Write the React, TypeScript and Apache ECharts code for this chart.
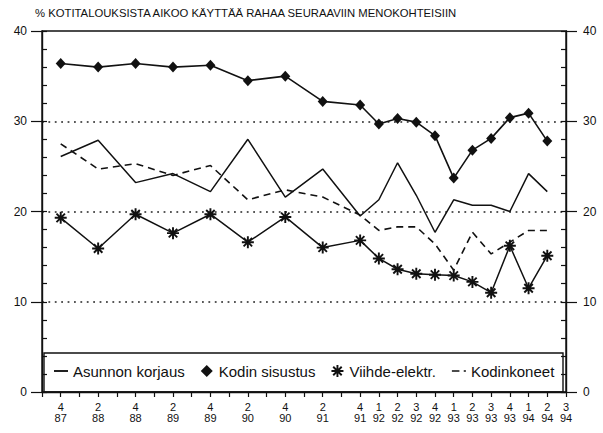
import React, { useEffect, useRef } from "react";
import * as echarts from "echarts";

const TITLE = "% KOTITALOUKSISTA AIKOO KÄYTTÄÄ RAHAA SEURAAVIIN MENOKOHTEISIIN";

const quarters = [
  "3\n87", "4\n87",
  "1\n88", "2\n88", "3\n88", "4\n88",
  "1\n89", "2\n89", "3\n89", "4\n89",
  "1\n90", "2\n90", "3\n90", "4\n90",
  "1\n91", "2\n91", "3\n91", "4\n91",
  "1\n92", "2\n92", "3\n92", "4\n92",
  "1\n93", "2\n93", "3\n93", "4\n93",
  "1\n94", "2\n94", "3\n94",
];

const tickLabels = [
  "4\n87", "2\n88", "4\n88", "2\n89", "4\n89", "2\n90", "4\n90", "2\n91",
  "4\n91", "1\n92", "2\n92", "3\n92", "4\n92", "1\n93", "2\n93", "3\n93",
  "4\n93", "1\n94", "2\n94", "3\n94",
];

const yTicks = [0, 10, 20, 30, 40];

const seriesNames = ["Asunnon korjaus", "Kodin sisustus", "Viihde-elektr.", "Kodinkoneet"];

const asunnonKorjaus = [
  null, 26.1, null, 27.9, null, 23.2, null, 24.2, null, 22.2, null, 28.0, null, 21.6,
  null, 24.7, null, 19.5, 21.3, 25.4, 21.8, 17.7, 21.3, 20.7, 20.7, 20.0, 24.2, 22.2, null,
];
const kodinSisustus = [
  null, 36.4, null, 36.0, null, 36.4, null, 36.0, null, 36.2, null, 34.5, null, 35.0,
  null, 32.2, null, 31.8, 29.7, 30.3, 29.9, 28.4, 23.7, 26.8, 28.1, 30.4, 30.9, 27.8, null,
];
const viihdeElektr = [
  null, 19.3, null, 15.9, null, 19.7, null, 17.6, null, 19.7, null, 16.6, null, 19.4,
  null, 16.0, null, 16.8, 14.8, 13.6, 13.1, 13.0, 12.9, 12.2, 11.0, 16.2, 11.5, 15.1, null,
];
const kodinkoneet = [
  null, 27.5, null, 24.7, null, 25.3, null, 24.0, null, 25.1, null, 21.3, null, 22.4,
  null, 21.6, null, 19.6, 17.9, 18.3, 18.3, 16.4, 13.5, 17.7, 15.3, 16.6, 17.9, 17.9, null,
];

const INK = "#111";
const FONT = "'Liberation Sans', Arial, Helvetica, sans-serif";

const asteriskPath =
  "path://M-5,-0.8L5,-0.8L5,0.8L-5,0.8Z M-0.8,-5L0.8,-5L0.8,5L-0.8,5Z " +
  "M-2.97,-4.1L4.1,2.97L2.97,4.1L-4.1,-2.97Z " +
  "M-4.1,2.97L2.97,-4.1L4.1,-2.97L-2.97,4.1Z";
const diamondPath = "path://M0,-5L5,0L0,5L-5,0Z";
const lineIcon = "path://M0,0L12,0L12,1.6L0,1.6Z";
const dashDotIcon = "path://M0,0L7,0L7,1.6L0,1.6Z M11,0L13,0L13,1.6L11,1.6Z";

export default function App() {
  const ref = useRef<HTMLDivElement>(null);

  useEffect(() => {
    document.body.style.margin = "0";
    if (!ref.current) return;
    const chart = echarts.init(ref.current, undefined, { renderer: "svg" });

    const majorAxis = (position: "left" | "right", margin: number, split: boolean) => ({
      type: "value",
      position,
      min: yTicks[0],
      max: yTicks[yTicks.length - 1],
      interval: 10,
      axisLine: { show: true, lineStyle: { color: INK, width: 1.4 } },
      axisTick: { show: true, length: 11, lineStyle: { color: INK, width: 1.2 } },
      axisLabel: { margin, fontSize: 12, color: INK, fontFamily: FONT },
      splitLine: {
        show: split,
        showMinLine: false,
        showMaxLine: false,
        lineStyle: { type: [1.8, 4.6], color: "#222", width: 1.6 },
      },
    });
    const minorAxis = (position: "left" | "right") => ({
      type: "value",
      position,
      min: 0,
      max: 40,
      interval: 2,
      axisLine: { show: false },
      axisTick: { show: true, inside: true, length: 5, lineStyle: { color: INK, width: 1.2 } },
      axisLabel: { show: false },
      splitLine: { show: false },
    });

    chart.setOption({
      animation: false,
      backgroundColor: "#fff",
      title: {
        text: TITLE,
        left: 35,
        top: 7,
        padding: 0,
        textStyle: { fontSize: 11.3, fontWeight: "normal", color: INK, fontFamily: FONT },
      },
      grid: {
        left: 42,
        right: 37,
        top: 31,
        bottom: 41,
        show: true,
        borderColor: INK,
        borderWidth: 1.4,
        backgroundColor: "transparent",
      },
      legend: {
        left: 54,
        top: 363,
        padding: 0,
        itemGap: 16,
        itemWidth: 14,
        itemHeight: 12,
        textStyle: { fontSize: 15, color: INK, fontFamily: FONT, lineHeight: 16 },
        data: [
          { name: seriesNames[0], icon: lineIcon },
          { name: seriesNames[1], icon: diamondPath },
          { name: seriesNames[2], icon: asteriskPath },
          { name: seriesNames[3], icon: dashDotIcon },
        ],
      },
      graphic: [
        {
          type: "rect",
          shape: { x: 44, y: 353, width: 519, height: 39 },
          style: { fill: "none", stroke: INK, lineWidth: 1.4 },
          silent: true,
        },
      ],
      xAxis: {
        type: "category",
        data: quarters,
        boundaryGap: false,
        axisLine: { show: true, lineStyle: { color: INK, width: 1.4 } },
        axisTick: { show: true, interval: 0, length: 5, lineStyle: { color: INK, width: 1.2 } },
        axisLabel: {
          interval: (_i: number, v: string) => tickLabels.includes(v),
          fontSize: 11,
          lineHeight: 11,
          margin: 9,
          color: INK,
          fontFamily: FONT,
        },
        splitLine: { show: false },
      },
      yAxis: [majorAxis("left", 15, true), majorAxis("right", 17, false), minorAxis("left"), minorAxis("right")],
      series: [
        {
          name: seriesNames[0],
          type: "line",
          data: asunnonKorjaus,
          connectNulls: true,
          symbol: "none",
          color: INK,
          lineStyle: { color: INK, width: 1.5 },
        },
        {
          name: seriesNames[1],
          type: "line",
          data: kodinSisustus,
          connectNulls: true,
          symbol: diamondPath,
          symbolSize: [10, 11],
          showAllSymbol: true,
          color: INK,
          itemStyle: { color: INK, borderWidth: 0 },
          lineStyle: { color: INK, width: 1.6 },
        },
        {
          name: seriesNames[2],
          type: "line",
          data: viihdeElektr,
          connectNulls: true,
          symbol: asteriskPath,
          symbolSize: 12,
          showAllSymbol: true,
          color: INK,
          itemStyle: { color: INK, borderWidth: 0 },
          lineStyle: { color: INK, width: 1.5 },
        },
        {
          name: seriesNames[3],
          type: "line",
          data: kodinkoneet,
          connectNulls: true,
          symbol: "none",
          color: INK,
          lineStyle: { color: INK, width: 1.6, type: [7, 5] },
        },
      ],
    });

    return () => chart.dispose();
  }, []);

  return <div ref={ref} style={{ width: 603, height: 433 }} />;
}
